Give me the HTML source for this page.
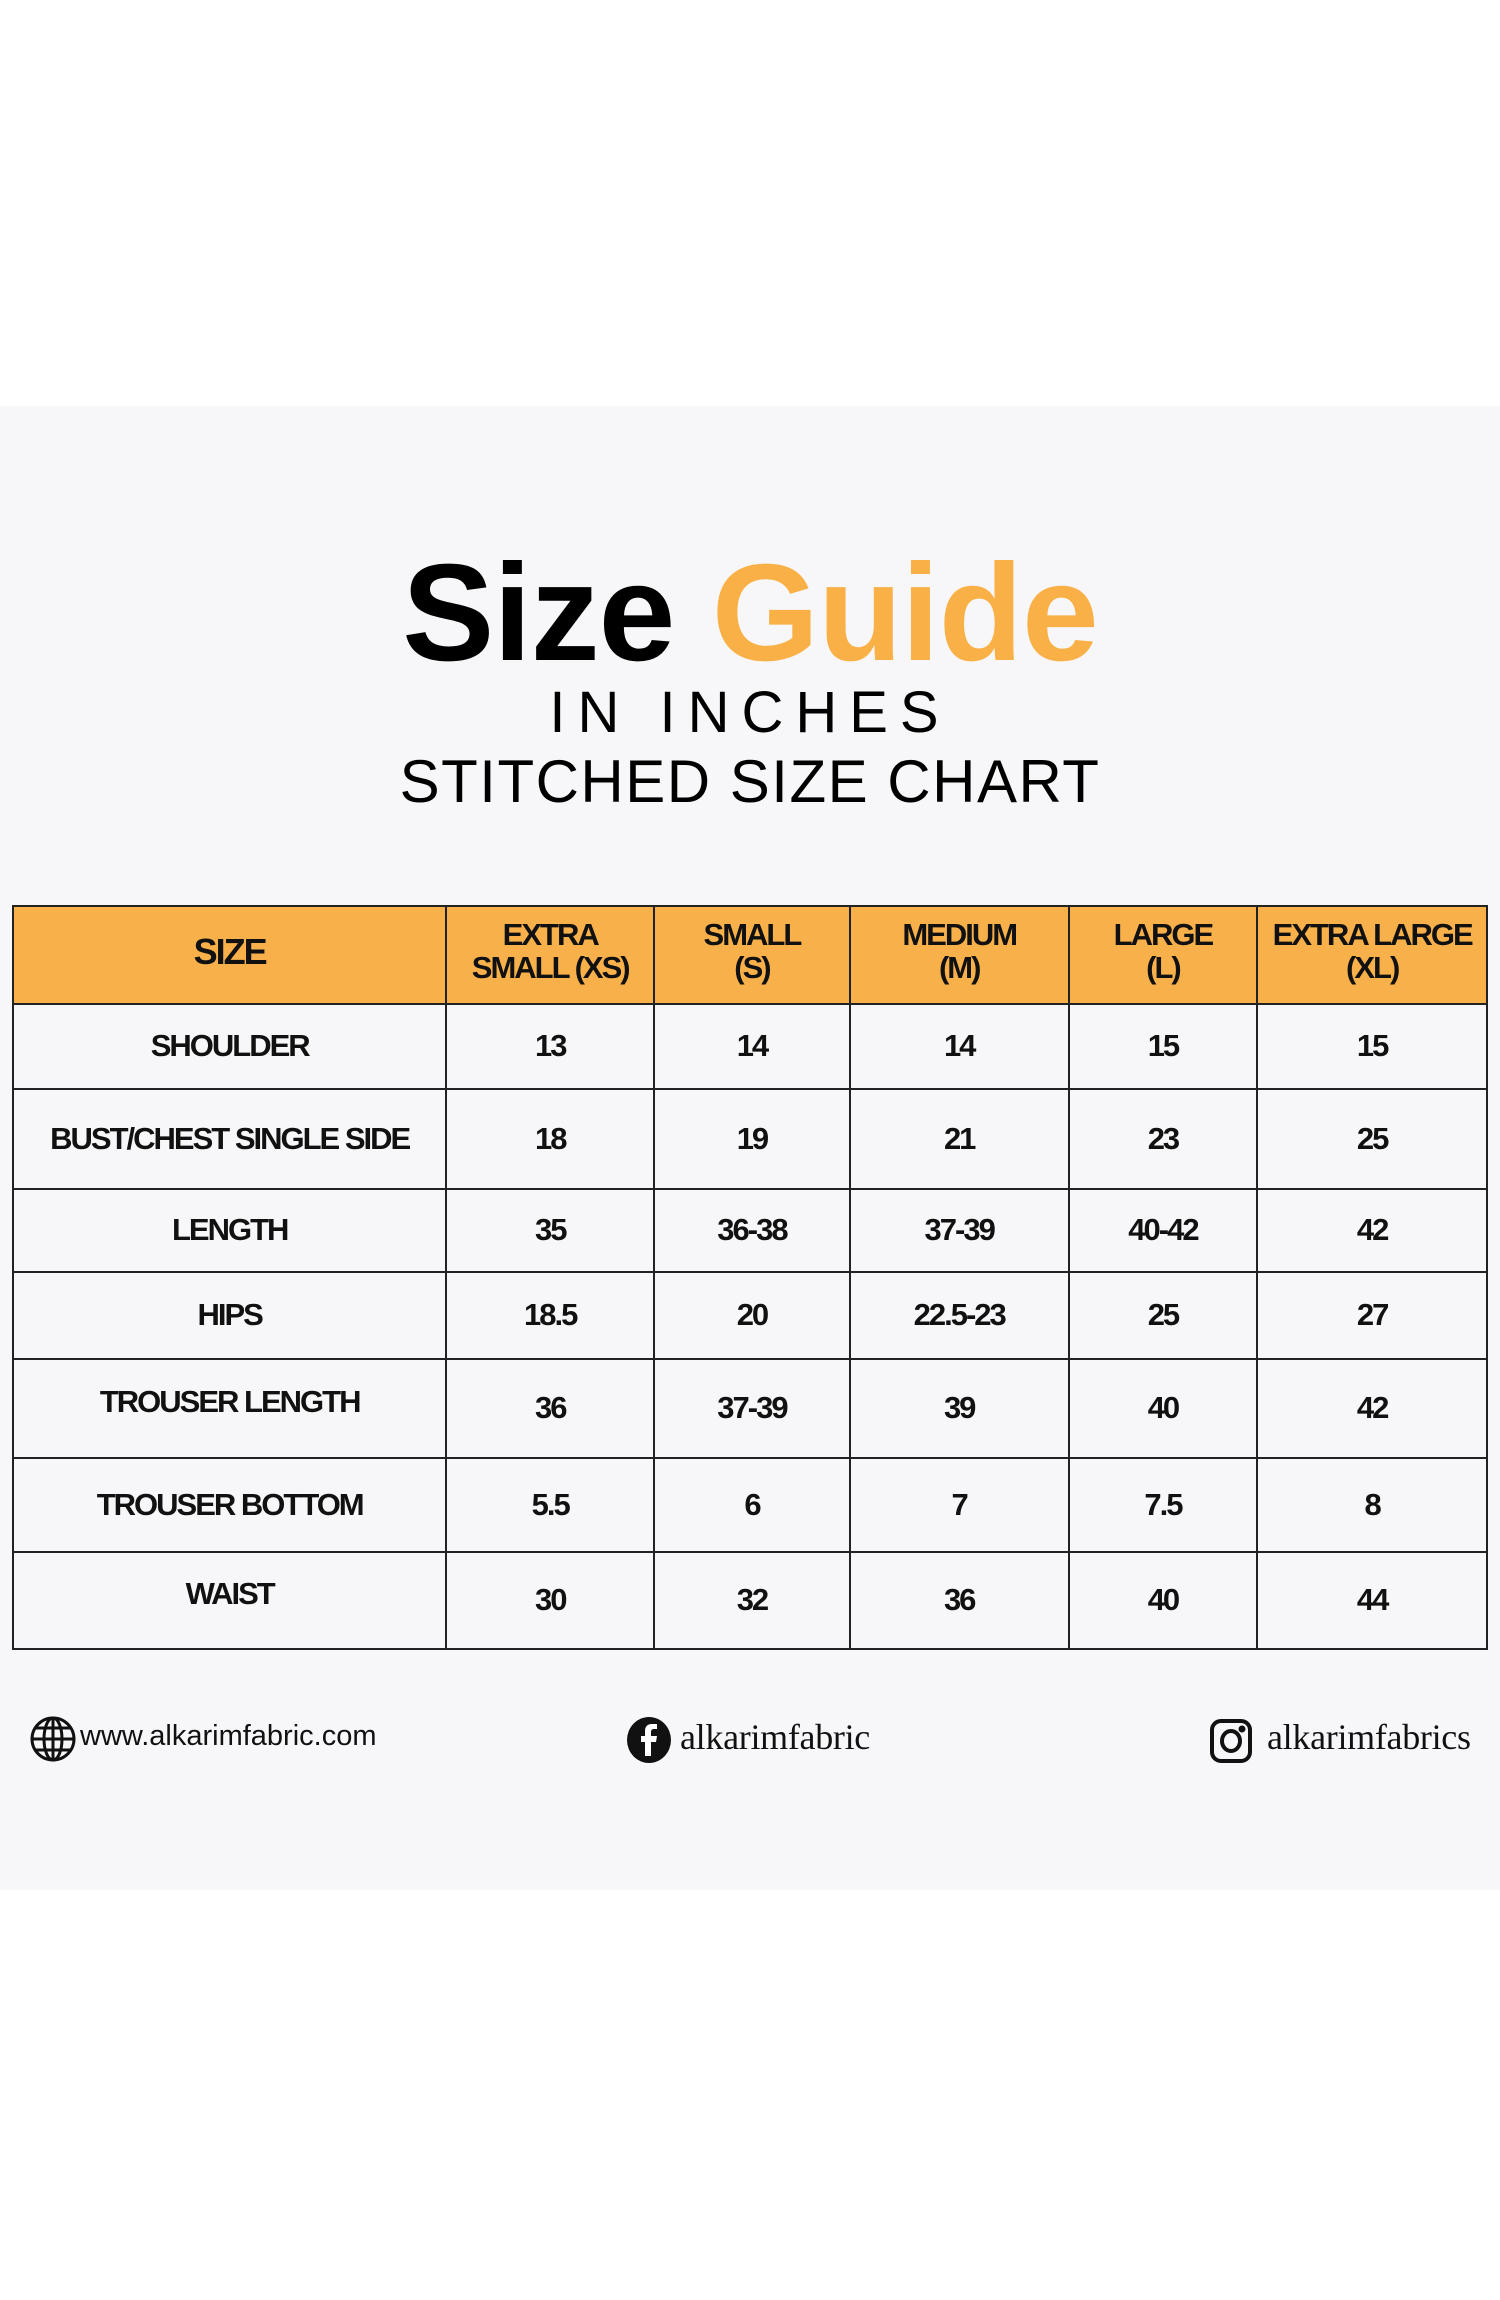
<!DOCTYPE html>
<html><head><meta charset="utf-8"><style>
*{margin:0;padding:0;box-sizing:border-box}
body{width:1500px;height:2300px;background:#fff;position:relative;font-family:"Liberation Sans",Arial,sans-serif;overflow:hidden}
.band{position:absolute;left:0;top:406px;width:1500px;height:1484px;background:#f7f7f9}
.t{position:absolute;white-space:nowrap}
.title{left:0;width:1500px;text-align:center;top:544px;font-size:138px;font-weight:bold;letter-spacing:-1px;line-height:1}
.sub1{left:0;width:1500px;text-align:center;top:684px;font-size:58px;letter-spacing:12px;line-height:1;font-weight:normal}
.sub2{left:0;width:1500px;text-align:center;top:752px;font-size:60px;letter-spacing:1.5px;line-height:1}
table{position:absolute;left:12px;top:905px;border-collapse:collapse;width:1476px}
td{border:2px solid #222;text-align:center;vertical-align:middle;font-weight:bold;font-size:31px;letter-spacing:-2px;color:#111;line-height:1.05}
tr.h td{background:#f8b04a;font-size:31px;padding-bottom:6px}
</style></head><body>
<div class="band"></div>
<div class="t title"><span style="color:#000">Size </span><span style="color:#f9b046">Guide</span></div>
<div class="t sub1">IN INCHES</div>
<div class="t sub2">STITCHED SIZE CHART</div>
<table>
<colgroup><col style="width:434px"><col style="width:208px"><col style="width:196px"><col style="width:219px"><col style="width:189px"><col style="width:230px"></colgroup>
<tr class="h" style="height:98px"><td style="font-size:36px">SIZE</td><td>EXTRA<br>SMALL (XS)</td><td>SMALL<br>(S)</td><td>MEDIUM<br>(M)</td><td>LARGE<br>(L)</td><td>EXTRA LARGE<br>(XL)</td></tr>
<tr style="height:85px"><td>SHOULDER</td><td>13</td><td>14</td><td>14</td><td>15</td><td>15</td></tr>
<tr style="height:100px"><td>BUST/CHEST SINGLE SIDE</td><td>18</td><td>19</td><td>21</td><td>23</td><td>25</td></tr>
<tr style="height:83px"><td>LENGTH</td><td>35</td><td>36-38</td><td>37-39</td><td>40-42</td><td>42</td></tr>
<tr style="height:87px"><td>HIPS</td><td>18.5</td><td>20</td><td>22.5-23</td><td>25</td><td>27</td></tr>
<tr style="height:99px"><td style="padding-bottom:12px">TROUSER LENGTH</td><td>36</td><td>37-39</td><td>39</td><td>40</td><td>42</td></tr>
<tr style="height:94px"><td>TROUSER BOTTOM</td><td>5.5</td><td>6</td><td>7</td><td>7.5</td><td>8</td></tr>
<tr style="height:97px"><td style="padding-bottom:12px">WAIST</td><td>30</td><td>32</td><td>36</td><td>40</td><td>44</td></tr>
</table>
<svg style="position:absolute;left:29px;top:1715px" width="48" height="48" viewBox="0 0 48 48" fill="none" stroke="#111" stroke-width="3">
<circle cx="24" cy="24" r="21"/><ellipse cx="24" cy="24" rx="9" ry="21"/><line x1="24" y1="3" x2="24" y2="45"/><line x1="3" y1="24" x2="45" y2="24"/><line x1="7" y1="13" x2="41" y2="13"/><line x1="7" y1="35" x2="41" y2="35"/></svg>
<div class="t" style="left:80px;top:1720px;font-size:29px;letter-spacing:0px;color:#111">www.alkarimfabric.com</div>
<svg style="position:absolute;left:626px;top:1716px" width="46" height="48" viewBox="0 0 46 48"><ellipse cx="23" cy="24" rx="22" ry="23" fill="#111"/><path d="M25 40V26h5l1-6h-6v-4c0-2 1-3 3-3h3V8h-5c-5 0-7 3-7 7v5h-4v6h4v14z" fill="#fff"/></svg>
<div class="t" style="left:680px;top:1716px;font-size:36px;font-family:'Liberation Serif',serif;color:#111;letter-spacing:-0.3px">alkarimfabric</div>
<svg style="position:absolute;left:1209px;top:1718px" width="44" height="46" viewBox="0 0 44 46" fill="none" stroke="#111" stroke-width="4"><rect x="3" y="3" width="38" height="40" rx="9"/><ellipse cx="22" cy="23" rx="9" ry="10"/><circle cx="33" cy="11" r="1.5" fill="#111"/></svg>
<div class="t" style="left:1267px;top:1716px;font-size:36px;font-family:'Liberation Serif',serif;color:#111;letter-spacing:-0.3px">alkarimfabrics</div>
</body></html>
